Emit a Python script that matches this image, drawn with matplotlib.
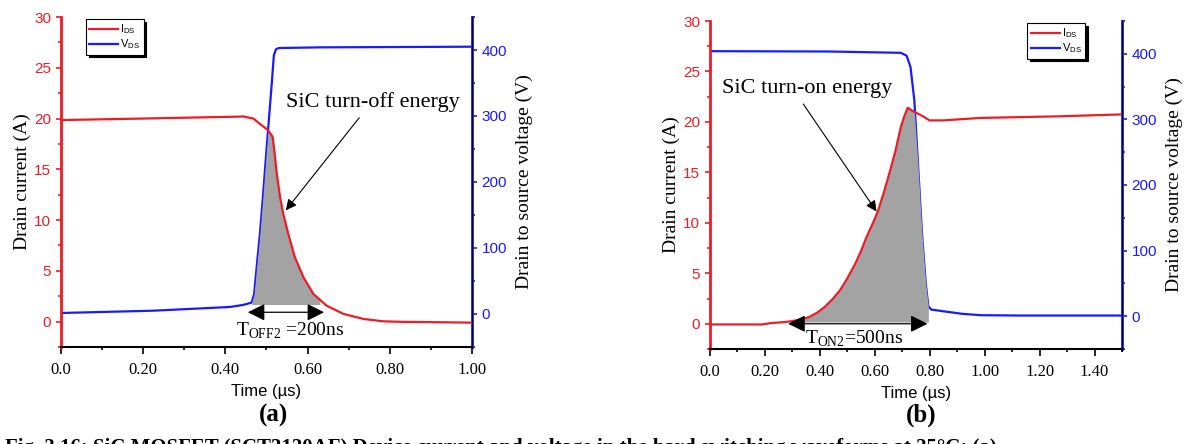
import numpy as np
import matplotlib
matplotlib.use("Agg")
import matplotlib.pyplot as plt
from matplotlib.ticker import MultipleLocator

# (a) turn-off
ta_i = [0.0, 0.20, 0.411, 0.444, 0.468, 0.488, 0.504, 0.515, 0.519, 0.525, 0.533, 0.541, 0.553,
        0.569, 0.590, 0.614, 0.646, 0.687, 0.736, 0.784, 0.825, 1.0]
ia = [19.85, 20.0, 20.17, 20.2, 20.0, 19.35, 18.85, 18.2, 16.9, 14.6, 12.3, 10.6, 8.65,
      6.35, 4.37, 2.73, 1.58, 0.76, 0.26, 0.03, -0.02, -0.1]
ta_v = [0.0, 0.225, 0.411, 0.444, 0.464, 0.470, 0.476, 0.484, 0.492, 0.500, 0.507, 0.513,
        0.518, 0.523, 0.530, 0.627, 1.0]
va = [1.5, 5, 10.6, 13.8, 17.3, 30, 70, 121, 182, 248, 303, 350, 392, 401, 403, 404, 405]

# (b) turn-on
tb_i = [0.0, 0.19, 0.222, 0.260, 0.292, 0.330, 0.361, 0.390, 0.417, 0.445, 0.473, 0.500, 0.528,
        0.550, 0.570, 0.592, 0.612, 0.633, 0.653, 0.675, 0.695, 0.708, 0.720,
        0.737, 0.758, 0.779, 0.799, 0.848, 0.987, 1.265, 1.504]
ib = [-0.07, -0.07, 0.07, 0.14, 0.23, 0.42, 0.66, 1.1, 1.65, 2.4, 3.3, 4.5, 5.9,
      7.2, 8.6, 9.9, 11.2, 13.0, 14.9, 17.1, 19.5, 20.6, 21.4,
      21.1, 20.8, 20.5, 20.15, 20.15, 20.4, 20.55, 20.75]
tb_v = [0.0, 0.431, 0.695, 0.716, 0.730, 0.744, 0.758, 0.772, 0.786, 0.795, 0.806, 0.848, 0.918,
        0.987, 1.126, 1.504]
vb = [404, 403.5, 401.5, 397, 380, 329, 227, 125, 48, 15, 10, 7.6, 3.6, 1.5, 1.0, 1.0]

xt_a = [0.0, 0.2, 0.4, 0.6, 0.8, 1.0]
xt_a_lbl = ["0.0", "0.20", "0.40", "0.60", "0.80", "1.00"]
xt_b = [0.0, 0.2, 0.4, 0.6, 0.8, 1.0, 1.2, 1.4]
xt_b_lbl = ["0.0", "0.20", "0.40", "0.60", "0.80", "1.00", "1.20", "1.40"]

RED = "#ee1c24"
BLUE = "#1a1aff"
SERIF = "Liberation Serif"
SANS = "Liberation Sans"

IL = (-2.5, 30)
VL = (-50, 450)


def v_to_i(v):
    return IL[0] + (np.asarray(v) + 50) * (IL[1] - IL[0]) / (VL[1] - VL[0])


def panel(rect, ti, i, tv, v, xmax, xt, xtl, fill_rng, fill_bot, leg_x):
    ax = fig.add_axes(rect)
    ax2 = ax.twinx()
    ax.plot(ti, i, color=RED, lw=1.6, label=r"I$_{\mathregular{DS}}$", zorder=3)
    ax2.plot(tv, v, color=BLUE, lw=1.6, zorder=3)
    ax.plot([], [], color=BLUE, lw=1.6, label=r"V$_{\mathregular{DS}}$")

    tt = np.union1d(ti, tv)
    tt = np.union1d(tt, fill_rng)
    tt = tt[(tt >= fill_rng[0]) & (tt <= fill_rng[1])]
    top = np.minimum(np.interp(tt, ti, i), v_to_i(np.interp(tt, tv, v)))
    ax.fill_between(tt, fill_bot, np.maximum(top, fill_bot), color="#a3a3a3", lw=0, zorder=2)

    ax.set_xlim(0, xmax)
    ax.set_ylim(*IL)
    ax2.set_ylim(*VL)
    ax.set_xticks(xt)
    ax.set_xticklabels(xtl, fontfamily=SERIF, fontsize=12)
    ax.xaxis.set_minor_locator(MultipleLocator(0.1))
    ax.set_yticks([0, 5, 10, 15, 20, 25, 30])
    ax.yaxis.set_minor_locator(MultipleLocator(2.5))
    ax2.set_yticks([0, 100, 200, 300, 400])
    ax2.yaxis.set_minor_locator(MultipleLocator(50))
    for a in (ax, ax2):
        a.spines["top"].set_visible(False)
        a.tick_params(which="both", direction="out")
    ax.tick_params(axis="y", which="both", colors=RED, labelsize=11, width=1.2)
    ax.tick_params(axis="x", which="both", width=1.2, pad=6)
    ax.tick_params(axis="x", which="major", length=5)
    ax2.tick_params(axis="y", which="both", colors=BLUE, labelsize=11, width=1.2)
    for lab in ax.get_yticklabels() + ax2.get_yticklabels():
        lab.set_fontfamily(SANS)
    ax.spines["left"].set_color(RED)
    ax.spines["left"].set_linewidth(2)
    ax2.spines["right"].set_color(BLUE)
    ax2.spines["right"].set_linewidth(2)
    ax.spines["bottom"].set_linewidth(1.5)
    ax2.spines["left"].set_visible(False)
    ax2.spines["bottom"].set_visible(False)
    ax.set_ylabel("Drain current (A)", fontfamily=SERIF, fontsize=14, labelpad=2)
    ax2.set_ylabel("Drain to source voltage (V)", fontfamily=SERIF, fontsize=14, labelpad=6)
    ax.set_xlabel("Time (µs)", fontfamily=SANS, fontsize=12, labelpad=4)
    ax2.set_zorder(ax.get_zorder() - 1)
    ax.patch.set_visible(False)
    leg = ax.legend(loc="upper left", bbox_to_anchor=(leg_x, 1.0), fancybox=False,
                    shadow={"color": "black", "alpha": 1.0}, edgecolor="black",
                    prop={"family": SANS, "size": 8}, handlelength=2.6, handletextpad=0.2,
                    borderpad=0.3, labelspacing=0.1, borderaxespad=0.2)
    leg.get_frame().set_linewidth(0.8)
    return ax


fig = plt.figure(figsize=(11.93, 4.44), dpi=100)

axa = panel([0.0511, 0.2185, 0.3445, 0.7432], ta_i, ia, ta_v, va, 1.0, xt_a, xt_a_lbl,
            [0.464, 0.63], 1.68, 0.055)
axa.annotate("", xy=(0.543, 10.75), xytext=(0.73, 20.3),
             arrowprops=dict(arrowstyle="-|>", color="k", lw=0.8, mutation_scale=16), zorder=5)
axa.text(0.76, 21.6, "SiC turn-off energy", fontfamily=SERIF, fontsize=16, ha="center", va="center")
axa.annotate("", xy=(0.448, 0.92), xytext=(0.647, 0.92),
             arrowprops=dict(arrowstyle="<|-|>", color="k", lw=0.9, mutation_scale=26), zorder=5)
axa.text(0.557, -0.9, r"T$_{\mathregular{OFF2}}$ =200ns", fontfamily=SERIF, fontsize=14,
         ha="center", va="center")

axb = panel([0.5951, 0.214, 0.3454, 0.7387], tb_i, ib, tb_v, vb, 1.5, xt_b, xt_b_lbl,
            [0.32, 0.795], 0.17, 0.765)
axb.annotate("", xy=(0.612, 10.9), xytext=(0.334, 22.0),
             arrowprops=dict(arrowstyle="-|>", color="k", lw=0.8, mutation_scale=16), zorder=5)
axb.text(0.355, 23.3, "SiC turn-on energy", fontfamily=SERIF, fontsize=16, ha="center", va="center")
axb.annotate("", xy=(0.275, 0.0), xytext=(0.802, 0.0),
             arrowprops=dict(arrowstyle="<|-|>", color="k", lw=0.9, mutation_scale=26), zorder=5)
axb.text(0.526, -1.5, r"T$_{\mathregular{ON2}}$=500ns", fontfamily=SERIF, fontsize=14,
         ha="center", va="center")

fig.text(0.229, 0.065, "(a)", fontfamily=SERIF, fontsize=18, fontweight="bold", ha="center", va="center")
fig.text(0.772, 0.065, "(b)", fontfamily=SERIF, fontsize=18, fontweight="bold", ha="center", va="center")
fig.text(0.004, -0.02, "Fig. 3.16: SiC MOSFET (SCT3120AF) Device current and voltage in the hard "
         "switching waveforms at 25\u00b0C: (a)", fontfamily=SERIF, fontsize=15, fontweight="bold",
         ha="left", va="baseline")

fig.savefig("out.png", dpi=100)
